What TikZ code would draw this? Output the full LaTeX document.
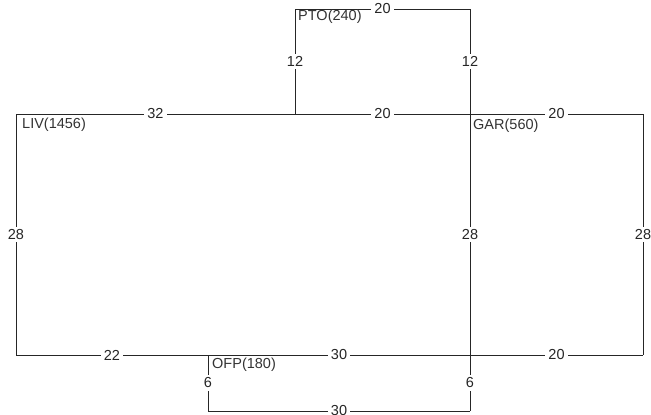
\documentclass[tikz,border=0pt]{standalone}
\usepackage{fontspec}
\setmainfont{Liberation Sans}
\begin{document}
\begin{tikzpicture}[x=1pt,y=-1pt,
  wall/.style={draw=black!85, line width=0.8pt},
  dim/.style={fill=white, inner xsep=3pt, inner ysep=2.5pt, font=\fontsize{14.5}{16}\selectfont, text=black!85},
  room/.style={anchor=north west, inner sep=1pt, font=\fontsize{14.5}{16}\selectfont, text=black!80}]
\useasboundingbox (0,0) rectangle (651,415);
\coordinate (LT) at (16,114);
\coordinate (PL) at (295,114);
\coordinate (GT) at (470,114);
\coordinate (RT) at (643,114);
\coordinate (PTL) at (295,9);
\coordinate (PTR) at (470,9);
\coordinate (LB) at (16,355);
\coordinate (OB) at (208,355);
\coordinate (GB) at (470,355);
\coordinate (RB) at (643,355);
\coordinate (OBB) at (208,411);
\coordinate (GBB) at (470,411);
\draw[wall] (LT) -- node[dim]{32} (PL);
\draw[wall] (PL) -- node[dim]{20} (GT);
\draw[wall] (GT) -- node[dim]{20} (RT);
\draw[wall] (PL) -- node[dim]{12} (PTL);
\draw[wall] (PTL) -- node[dim]{20} (PTR);
\draw[wall] (PTR) -- node[dim]{12} (GT);
\draw[wall] (LT) -- node[dim]{28} (LB);
\draw[wall] (GT) -- node[dim]{28} (GB);
\draw[wall] (RT) -- node[dim]{28} (RB);
\draw[wall] (LB) -- node[dim]{22} (OB);
\draw[wall] (OB) -- node[dim]{30} (GB);
\draw[wall] (GB) -- node[dim]{20} (RB);
\draw[wall] (OB) -- node[dim]{6} (OBB);
\draw[wall] (GB) -- node[dim]{6} (GBB);
\draw[wall] (OBB) -- node[dim]{30} (GBB);
\node[room] (liv) at (21,117) {LIV(1456)};
\node[room] (pto) at (297,9) {PTO(240)};
\node[room] (gar) at (472,118) {GAR(560)};
\node[room] (ofp) at (211,357) {OFP(180)};
\end{tikzpicture}
\end{document}
